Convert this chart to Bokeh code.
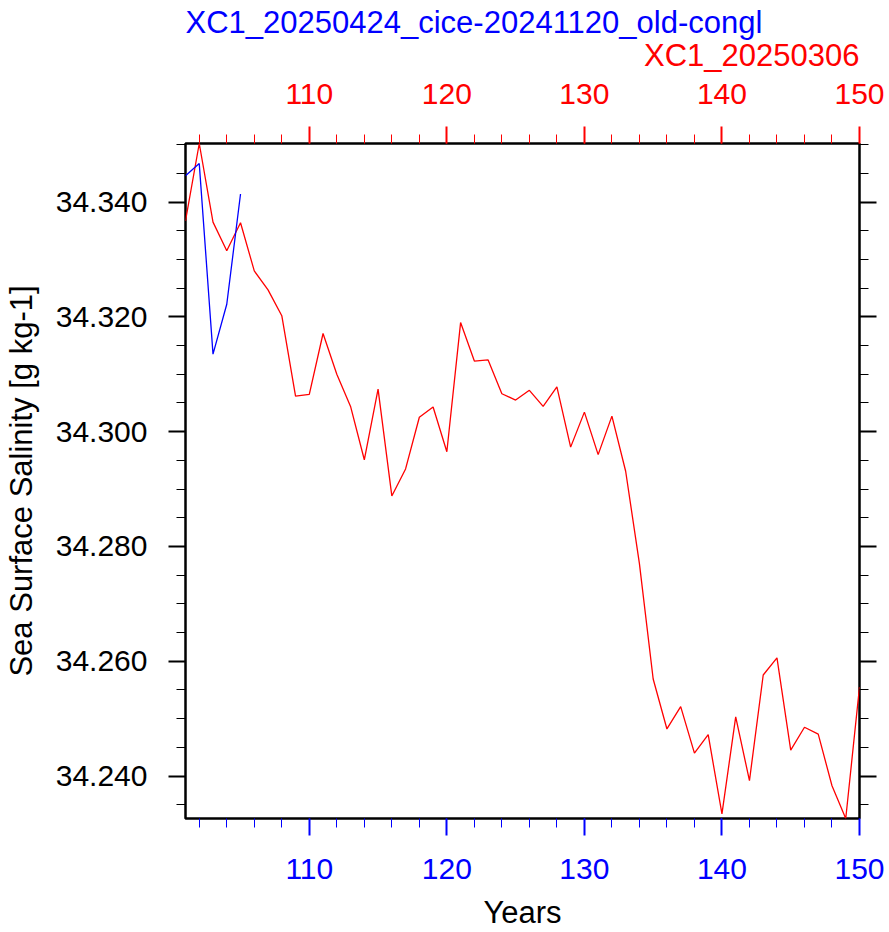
from bokeh.plotting import figure
from bokeh.models import (Range1d, LinearAxis, SingleIntervalTicker, PrintfTickFormatter,
                          CustomJSTickFormatter, Title)
from bokeh.embed import file_html
from bokeh.resources import INLINE

# ---- data ----
years_red = list(range(101, 151))
sss_red = [34.3367, 34.3502, 34.3365, 34.3315, 34.3364, 34.3280, 34.3247, 34.3202, 34.3062, 34.3065,
           34.3171, 34.3100, 34.3044, 34.2951, 34.3074, 34.2888, 34.2935, 34.3025, 34.3043, 34.2965,
           34.3190, 34.3123, 34.3125, 34.3066, 34.3055, 34.3072, 34.3044, 34.3078, 34.2973, 34.3034,
           34.2960, 34.3027, 34.2931, 34.2770, 34.2569, 34.2482, 34.2521, 34.2440, 34.2472, 34.2334,
           34.2503, 34.2392, 34.2576, 34.2606, 34.2445, 34.2485, 34.2473, 34.2383, 34.2326, 34.2555]
years_blue = list(range(101, 106))
sss_blue = [34.3446, 34.3467, 34.3135, 34.3222, 34.3414]

name_blue = "XC1_20250424_cice-20241120_old-congl"
name_red = "XC1_20250306"
x_title = "Years"
y_title = "Sea Surface Salinity [g kg-1]"

FONT = "Liberation Sans"
FS = "30px"
FS_T = "31px"

ymin = min(sss_red + sss_blue)
ymax = max(sss_red + sss_blue)
xmin = min(years_red + years_blue)
xmax = max(years_red + years_blue)

p = figure(width=889, height=932, output_backend="svg", toolbar_location=None,
           x_range=Range1d(xmin, xmax), y_range=Range1d(ymin, ymax),
           x_axis_location=None, y_axis_location=None,
           min_border_left=185, min_border_right=30, min_border_top=143, min_border_bottom=114)
p.xgrid.visible = False
p.ygrid.visible = False
p.outline_line_color = "black"
p.outline_line_width = 2.5
p.background_fill_color = "white"
p.border_fill_color = "white"


def style_axis(ax, color, standoff):
    ax.axis_line_color = None
    ax.major_tick_line_color = color
    ax.minor_tick_line_color = color
    ax.major_tick_line_width = 2
    ax.minor_tick_line_width = 1
    ax.major_tick_in = 0
    ax.minor_tick_in = 0
    ax.major_tick_out = 17
    ax.minor_tick_out = 9
    ax.major_label_text_font = FONT
    ax.major_label_text_color = color
    ax.major_label_text_font_size = FS
    ax.major_label_standoff = standoff
    ax.axis_label_text_font = FONT
    ax.axis_label_text_font_size = FS_T
    ax.axis_label_text_font_style = "normal"
    ax.axis_label_text_color = "black"


xt = SingleIntervalTicker(interval=10, num_minor_ticks=5)
yt = SingleIntervalTicker(interval=0.02, num_minor_ticks=4)

bottom = LinearAxis(ticker=xt, axis_label=x_title)
style_axis(bottom, "blue", 23)
bottom.axis_label_standoff = 13
p.add_layout(bottom, "below")

left = LinearAxis(ticker=yt, axis_label=y_title, formatter=PrintfTickFormatter(format="%.3f"))
style_axis(left, "black", 21)
left.axis_label_standoff = 14
p.add_layout(left, "left")

right = LinearAxis(ticker=yt, formatter=CustomJSTickFormatter(code="return ''"))
style_axis(right, "black", 0)
p.add_layout(right, "right")

top = LinearAxis(ticker=xt)
style_axis(top, "red", 23)
p.add_layout(top, "above")

red_title = Title(text=name_red, align="right", text_color="red", text_font=FONT,
                  text_font_size=FS_T, text_font_style="normal", standoff=15)
p.add_layout(red_title, "above")

p.title.text = name_blue
p.title.align = "left"
p.title.text_color = "blue"
p.title.text_font = FONT
p.title.text_font_size = FS_T
p.title.text_font_style = "normal"
p.title.standoff = -23

p.line(years_red, sss_red, line_color="red", line_width=1.3)
p.line(years_blue, sss_blue, line_color="blue", line_width=1.3)

open("out.html", "w").write(file_html(p, INLINE))
